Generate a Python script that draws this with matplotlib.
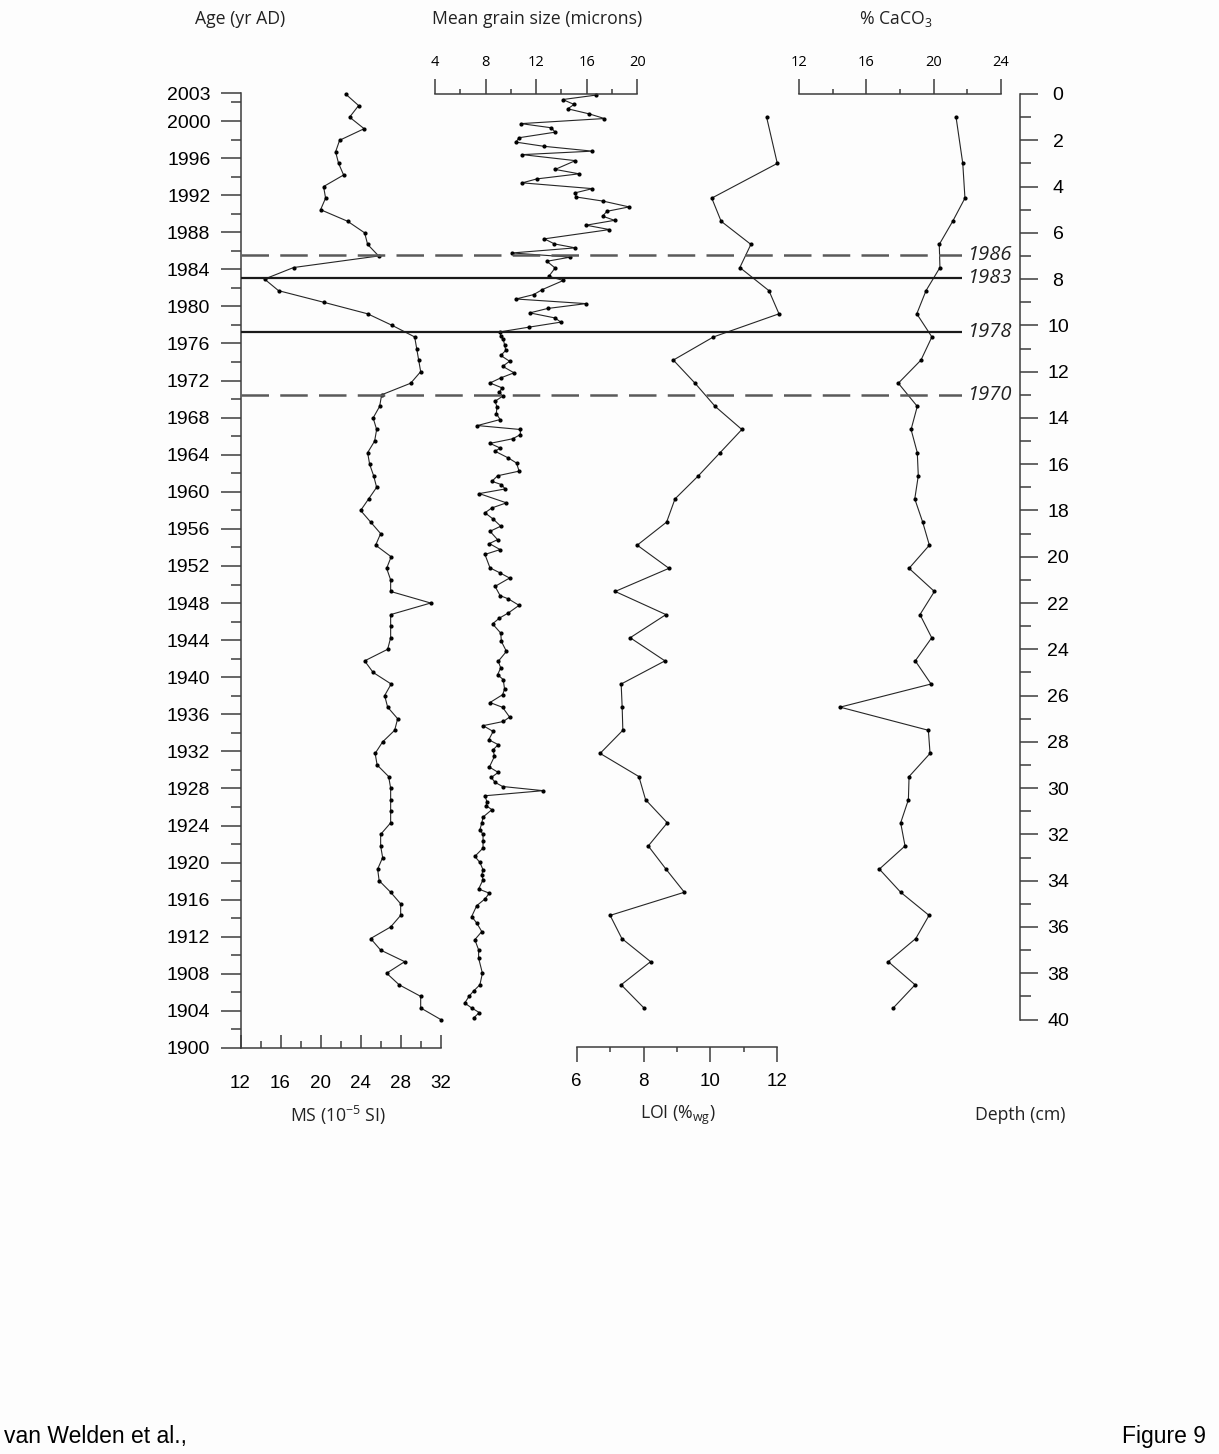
import matplotlib
matplotlib.use('Agg')
import matplotlib.pyplot as plt
from matplotlib.ticker import FixedLocator, MultipleLocator

plt.rcParams['font.family'] = ['Liberation Sans', 'DejaVu Sans']
plt.rcParams['mathtext.fontset'] = 'custom'
plt.rcParams['mathtext.rm'] = 'Open Sans'
plt.rcParams['mathtext.it'] = 'Open Sans:italic'

# ---- data (depth in cm) ----
ms_depth = [0.0, 0.5, 1.0, 1.5, 2.0, 2.5, 3.0, 3.5, 4.0, 4.5, 5.0, 5.5, 6.0, 6.5, 7.0, 7.5,
            8.0, 8.5, 9.0, 9.5, 10.0, 10.5, 11.0, 11.5, 12.0, 12.5, 13.0, 13.5, 14.0, 14.5,
            15.0, 15.5, 16.0, 16.5, 17.0, 17.5, 18.0, 18.5, 19.0, 19.5, 20.0, 20.5, 21.0,
            21.5, 22.0, 22.5, 23.0, 23.5, 24.0, 24.5, 25.0, 25.5, 26.0, 26.5, 27.0, 27.5,
            28.0, 28.5, 29.0, 29.5, 30.0, 30.5, 31.0, 31.5, 32.0, 32.5, 33.0, 33.5, 34.0,
            34.5, 35.0, 35.5, 36.0, 36.5, 37.0, 37.5, 38.0, 38.5, 39.0, 39.5, 40.0]
ms_value = [22.5, 23.8, 22.9, 24.35, 21.9, 21.5, 21.8, 22.3, 20.3, 20.5, 20.0, 22.7, 24.4,
            24.7, 25.8, 17.3, 14.4, 15.8, 20.3, 24.7, 27.15, 29.4, 29.6, 29.8, 30.0, 29.0,
            26.1, 25.9, 25.25, 25.6, 25.4, 24.7, 24.9, 25.3, 25.6, 24.8, 24.0, 25.0, 26.0,
            25.5, 27.05, 26.6, 27.0, 27.0, 31.0, 27.0, 27.0, 27.0, 26.7, 24.4, 25.25, 27.05,
            26.4, 26.7, 27.7, 27.4, 26.2, 25.45, 25.65, 26.8, 27.0, 27.0, 27.0, 27.0, 26.0,
            26.0, 26.2, 25.7, 25.85, 27.0, 28.0, 28.0, 27.0, 25.0, 26.0, 28.4, 26.6, 27.85,
            30.0, 30.0, 32.0]

gs_depth = [0.05, 0.24, 0.45, 0.64, 0.86, 1.06, 1.28, 1.46, 1.65, 1.89, 2.08, 2.26, 2.47,
            2.62, 2.88, 3.26, 3.45, 3.67, 3.84, 4.09, 4.27, 4.45, 4.63, 4.88, 5.07, 5.28,
            5.46, 5.67, 5.86, 6.26, 6.48, 6.65, 6.87, 7.05, 7.23, 7.52, 7.88, 8.06, 8.45,
            8.67, 8.86, 9.06, 9.27, 9.46, 9.68, 9.86, 10.08, 10.28, 10.47, 10.6, 10.83,
            11.08, 11.3, 11.55, 11.77, 12.05, 12.27, 12.49, 12.7, 12.89, 13.06, 13.28,
            13.52, 13.81, 14.07, 14.33, 14.5, 14.72, 14.9, 15.1, 15.3, 15.44, 15.73, 15.95,
            16.3, 16.5, 16.74, 16.88, 17.07, 17.27, 17.67, 17.89, 18.1, 18.37, 18.68, 18.9,
            19.26, 19.43, 19.69, 19.9, 20.48, 20.7, 20.92, 21.28, 21.68, 21.82, 22.1, 22.43,
            22.65, 22.9, 23.3, 23.66, 24.09, 24.52, 24.8, 25.1, 25.31, 25.72, 25.96, 26.3,
            26.51, 26.93, 27.12, 27.3, 27.55, 27.91, 28.12, 28.34, 28.63, 29.09, 29.32,
            29.54, 29.75, 29.93, 30.11, 30.33, 30.58, 30.76, 30.93, 31.25, 31.51, 31.8,
            32.0, 32.3, 32.59, 32.95, 33.21, 33.53, 33.74, 33.96, 34.36, 34.54, 34.79,
            35.08, 35.55, 35.83, 36.2, 36.55, 36.99, 37.35, 38.0, 38.5, 38.77, 38.99,
            39.29, 39.5, 39.7, 39.94]
gs_value = [16.7, 14.1, 15.0, 14.5, 16.2, 17.4, 10.8, 13.2, 13.5, 10.65, 10.4, 12.6, 16.45,
            10.9, 15.1, 13.5, 15.4, 12.05, 10.9, 16.45, 15.1, 15.15, 17.3, 19.35, 17.6,
            17.25, 18.2, 15.95, 17.8, 12.65, 13.45, 15.1, 10.1, 14.7, 12.85, 13.5, 13.0,
            14.15, 12.5, 11.8, 10.4, 15.95, 12.9, 11.5, 13.5, 13.95, 11.4, 9.15, 9.2, 9.4,
            9.5, 9.6, 9.2, 9.9, 9.35, 10.25, 9.2, 8.35, 9.3, 9.1, 9.35, 8.75, 8.9, 8.85,
            9.15, 7.35, 10.75, 10.75, 10.15, 8.35, 9.15, 8.75, 9.8, 10.45, 10.65, 8.95, 8.5,
            9.25, 9.55, 7.5, 9.65, 8.5, 7.95, 8.6, 9.2, 8.35, 8.95, 8.3, 9.15, 7.95, 8.35,
            9.15, 9.9, 8.75, 9.15, 9.8, 10.65, 9.8, 9.1, 8.55, 9.2, 9.25, 9.65, 9.0, 9.2,
            8.95, 9.4, 9.5, 9.35, 8.35, 9.35, 9.9, 9.4, 7.8, 8.6, 8.25, 9.0, 8.6, 8.7, 8.3,
            9.0, 8.45, 8.75, 9.35, 12.55, 7.95, 8.1, 8.05, 8.5, 7.8, 7.7, 7.55, 7.8, 7.8,
            7.8, 7.15, 7.55, 7.8, 7.7, 7.8, 7.45, 8.3, 7.95, 7.3, 6.9, 7.3, 7.7, 7.15, 7.45,
            7.45, 7.75, 7.55, 7.05, 6.7, 6.35, 6.9, 7.5, 7.05]

chem_depth = [1.0, 3.0, 4.5, 5.5, 6.5, 7.5, 8.5, 9.5, 10.5, 11.5, 12.5, 13.5, 14.5, 15.5,
              16.5, 17.5, 18.5, 19.5, 20.5, 21.5, 22.5, 23.5, 24.5, 25.5, 26.5, 27.5,
              28.5, 29.5, 30.5, 31.5, 32.5, 33.5, 34.5, 35.5, 36.5, 37.5, 38.5, 39.5]
loi_value = [11.68, 12.0, 10.04, 10.32, 11.21, 10.88, 11.75, 12.05, 10.09, 8.89, 9.54,
             10.14, 10.94, 10.29, 9.64, 8.94, 8.69, 7.81, 8.76, 7.15, 8.67, 7.6, 8.64, 7.33,
             7.36, 7.38, 6.7, 7.86, 8.06, 8.71, 8.14, 8.67, 9.22, 7.0, 7.35, 8.21, 7.33, 8.01]
caco3_value = [21.34, 21.74, 21.87, 21.14, 20.34, 20.38, 19.55, 19.0, 19.9, 19.25, 17.9,
               19.03, 18.66, 19.03, 19.09, 18.88, 19.35, 19.75, 18.54, 20.05, 19.19, 19.89,
               18.91, 19.85, 14.43, 19.69, 19.79, 18.54, 18.5, 18.04, 18.3, 16.77, 18.04,
               19.73, 18.94, 17.3, 18.9, 17.6]

event_depth = [6.95, 7.97, 10.28, 13.02]
event_label = ['1986', '1983', '1978', '1970']
event_dashed = [True, False, False, True]

age_major = [1900, 1904, 1908, 1912, 1916, 1920, 1924, 1928, 1932, 1936, 1940, 1944, 1948,
             1952, 1956, 1960, 1964, 1968, 1972, 1976, 1980, 1984, 1988, 1992, 1996, 2000, 2003]

# ---- layout in pixels ----
W, H = 1219, 1454
TOP, BOT = 94, 1048
D40 = 1019.5
DMAX = 40 * (BOT - TOP) / (D40 - TOP)
AXCOL = '#3c3c3c'
LINECOL = '#262626'
TICKFONT = 'Liberation Sans'
LABFONT = 'Open Sans'


def box(x0, x1, y0=TOP, y1=BOT):
    return [x0 / W, 1 - y1 / H, (x1 - x0) / W, (y1 - y0) / H]


def panel(fig, x0, x1, xlim, side, major, minor, ticks, y1=BOT, tickdir='in', pad=19.5):
    ax = fig.add_axes(box(x0, x1, TOP, y1))
    ax.set_xlim(*xlim)
    ax.set_ylim(40 * (y1 - TOP) / (D40 - TOP), 0)
    ax.patch.set_alpha(0)
    for s in ax.spines.values():
        s.set_visible(False)
    ax.spines[side].set_visible(True)
    ax.spines[side].set_color(AXCOL)
    ax.spines[side].set_linewidth(1.1)
    ax.set_yticks([])
    ax.xaxis.set_major_locator(MultipleLocator(major))
    ax.xaxis.set_minor_locator(MultipleLocator(minor))
    if side == 'top':
        ax.xaxis.tick_top()
        ax.tick_params(axis='x', which='major', direction='out', length=ticks[0], width=1.1,
                       color=AXCOL, pad=6.5, labelsize=10.5)
        ax.tick_params(axis='x', which='minor', direction='out', length=ticks[1], width=1.1,
                       color=AXCOL)
        for lbl in ax.get_xticklabels():
            lbl.set_family(LABFONT)
    else:
        ax.tick_params(axis='x', which='major', direction=tickdir, length=ticks[0], width=1.1,
                       color=AXCOL, pad=pad, labelsize=13.5)
        ax.tick_params(axis='x', which='minor', direction=tickdir, length=ticks[1], width=1.1,
                       color=AXCOL)
    return ax


fig = plt.figure(figsize=(W / 100, H / 100), dpi=100, facecolor='#fdfdfd')

# age axis (left)
ax_age = fig.add_axes(box(240.5, 260, 93.2, BOT))
ax_age.set_ylim(1900, 2003)
ax_age.patch.set_alpha(0)
for s in ['top', 'right', 'bottom']:
    ax_age.spines[s].set_visible(False)
ax_age.spines['left'].set_color(AXCOL)
ax_age.spines['left'].set_linewidth(1.1)
ax_age.set_xticks([])
ax_age.yaxis.set_major_locator(FixedLocator(age_major))
ax_age.yaxis.set_minor_locator(FixedLocator(list(range(1902, 2003, 4))))
ax_age.tick_params(axis='y', which='major', direction='out', length=14.5, width=1.1,
                   color=AXCOL, pad=7.2, labelsize=14)
ax_age.tick_params(axis='y', which='minor', direction='out', length=7.2, width=1.1,
                   color=AXCOL)

# depth axis (right)
ax_dep = fig.add_axes(box(1000, 1020, TOP, D40))
ax_dep.set_ylim(40, 0)
ax_dep.patch.set_alpha(0)
for s in ['top', 'left', 'bottom']:
    ax_dep.spines[s].set_visible(False)
ax_dep.spines['right'].set_color(AXCOL)
ax_dep.spines['right'].set_linewidth(1.1)
ax_dep.set_xticks([])
ax_dep.yaxis.tick_right()
ax_dep.yaxis.set_major_locator(MultipleLocator(2))
ax_dep.yaxis.set_minor_locator(MultipleLocator(1))
ax_dep.tick_params(axis='y', which='major', direction='out', length=13, width=1.1,
                   color=AXCOL, pad=14.4, labelsize=14)
ax_dep.tick_params(axis='y', which='minor', direction='out', length=8, width=1.1, color=AXCOL)
for lbl in ax_dep.get_yticklabels():
    lbl.set_horizontalalignment('center')

# data panels
ax_ms = panel(fig, 240.5, 440.7, (12, 32), 'bottom', 4, 2, (9.5, 4.8))
ax_gs = panel(fig, 435, 637.3, (4, 20), 'top', 4, 2, (10.8, 3.6))
ax_loi = panel(fig, 576.7, 777.3, (6, 12), 'bottom', 2, 1, (10.8, 3.6), y1=1046.5,
               tickdir='out', pad=8)
ax_ca = panel(fig, 799.3, 1000.7, (12, 24), 'top', 4, 2, (10.8, 3.6))

style = dict(color=LINECOL, lw=0.8, marker='o', ms=2.0, mfc='black', mec='black',
             clip_on=False)
ax_ms.plot(ms_value, ms_depth, **style)
ax_gs.plot(gs_value, gs_depth, **style)
ax_loi.plot(loi_value, chem_depth, **style)
ax_ca.plot(caco3_value, chem_depth, **style)

# event horizons
ax_ev = fig.add_axes(box(240.5, 962))
ax_ev.set_ylim(DMAX, 0)
ax_ev.axis('off')
for d, lab, dashed in zip(event_depth, event_label, event_dashed):
    if dashed:
        ax_ev.axhline(d, color='#5a5a5a', lw=1.8, dashes=(11, 4.5))
    else:
        ax_ev.axhline(d, color='#1a1a1a', lw=1.6)
    ax_ev.text(1.007, d, lab, transform=ax_ev.get_yaxis_transform(), ha='left',
               va='center', family=LABFONT, style='italic', fontsize=14.5, color='#222222')

# titles
def ftext(x, y, s, **kw):
    fig.text(x / W, 1 - y / H, s, ha='center', va='center', family=LABFONT,
             fontsize=12.7, color='#222222', **kw)

ftext(240, 19, 'Age (yr AD)')
ftext(537, 19, 'Mean grain size (microns)')
ftext(896, 19, '% CaCO$_3$')
ftext(338, 1115, 'MS (10$^{-5}$ SI)')
ftext(678, 1115, 'LOI (%$_{\\mathrm{wg}}$)')
ftext(1020, 1115, 'Depth (cm)')

fig.text(4 / W, 1 - 1436 / H, 'van Welden et al.,', ha='left', va='center',
         family=TICKFONT, fontsize=16.5)
fig.text(1206 / W, 1 - 1436 / H, 'Figure 9', ha='right', va='center',
         family=TICKFONT, fontsize=16.5)

fig.savefig('out.png', dpi=100, facecolor=fig.get_facecolor())
